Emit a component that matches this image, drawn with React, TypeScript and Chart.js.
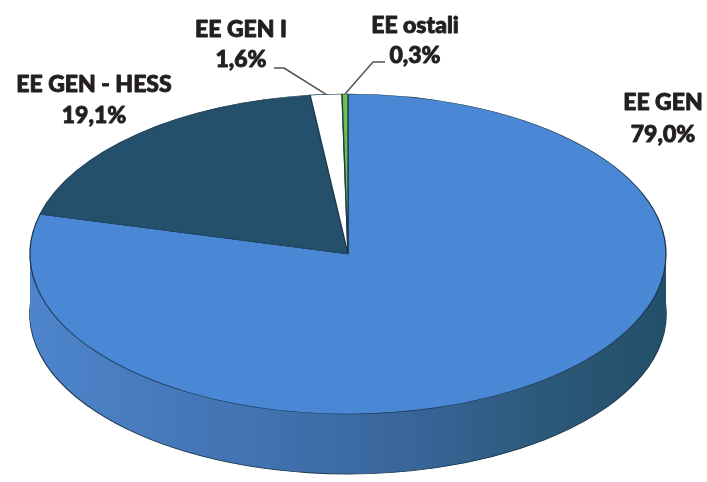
import React, { useEffect, useRef } from "react";
import { Chart, registerables } from "chart.js";

Chart.register(...registerables);

// ---- data ----
const categories: string[] = ["EE GEN", "EE GEN - HESS", "EE GEN I", "EE ostali"];
const shares: number[] = [79.0, 19.1, 1.6, 0.3];
const sliceColors: string[] = ["#4a88d6", "#25506c", "#ffffff", "#6cbf4a"];

// ---- layout (screen pixels) ----
const CX = 348;
const CY = 254;
const RX = 318;
const RY = 160;
const DEPTH = 60;

type LabelPos = { x: number; y1: number; y2: number; leader?: { fromX: number; fromY: number; elbowX: number } };
const LABEL_POS: LabelPos[] = [
  { x: 663, y1: 110, y2: 142 },
  { x: 94, y1: 92, y2: 123 },
  { x: 241, y1: 37, y2: 67, leader: { fromX: 274, fromY: 68, elbowX: 284 } },
  { x: 415, y1: 33, y2: 63, leader: { fromX: 385, fromY: 62, elbowX: 373 } },
];

const fmt = (v: number) => v.toFixed(1).replace(".", ",") + "%";

const pie3d = {
  id: "pie3d",
  beforeDatasetsDraw(chart: any) {
    const ctx: CanvasRenderingContext2D = chart.ctx;
    const arcs = chart.getDatasetMeta(0).data as any[];
    if (!arcs.length) return false;
    const a0 = arcs[0];
    const r = a0.outerRadius;
    const ox = a0.x;
    const oy = a0.y;
    const sx = RX / r;
    const sy = RY / r;
    const place = (d: number) => {
      ctx.translate(CX, CY + d);
      ctx.scale(sx, sy);
      ctx.translate(-ox, -oy);
    };
    const grad = ctx.createLinearGradient(ox - r, 0, ox + r, 0);
    grad.addColorStop(0, "#4d84cb");
    grad.addColorStop(0.35, "#4273b2");
    grad.addColorStop(0.6, "#38659a");
    grad.addColorStop(0.8, "#2c597a");
    grad.addColorStop(1, "#244f69");

    for (let d = DEPTH; d >= 1; d--) {
      ctx.save();
      place(d);
      arcs.forEach((el: any) => {
        const orig = el.options;
        el.options = {
          ...orig,
          backgroundColor: grad,
          borderWidth: d === DEPTH ? 1.2 : 0,
          borderColor: "#1c3a4e",
        };
        el.draw(ctx);
        el.options = orig;
      });
      ctx.restore();
    }
    ctx.save();
    place(0);
    arcs.forEach((el: any) => el.draw(ctx));
    ctx.restore();
    return false;
  },
  afterDraw(chart: any) {
    const ctx: CanvasRenderingContext2D = chart.ctx;
    const arcs = chart.getDatasetMeta(0).data as any[];
    ctx.save();
    ctx.font = "900 23px Lato";
    ctx.fillStyle = "#231f20";
    ctx.strokeStyle = "#231f20";
    ctx.lineWidth = 0.9;
    ctx.lineJoin = "round";
    ctx.textAlign = "center";
    ctx.textBaseline = "alphabetic";
    categories.forEach((c, i) => {
      const p = LABEL_POS[i];
      ctx.fillText(c, p.x, p.y1);
      ctx.strokeText(c, p.x, p.y1);
      ctx.fillText(fmt(shares[i]), p.x, p.y2);
      ctx.strokeText(fmt(shares[i]), p.x, p.y2);
    });
    categories.forEach((c, i) => {
      const p = LABEL_POS[i];
      if (p.leader && arcs[i]) {
        const el = arcs[i];
        const mid = (el.startAngle + el.endAngle) / 2;
        const ex = CX + RX * Math.cos(mid);
        const ey = CY + RY * Math.sin(mid);
        ctx.beginPath();
        ctx.moveTo(p.leader.fromX, p.leader.fromY);
        ctx.lineTo(p.leader.elbowX, p.leader.fromY);
        ctx.lineTo(ex, ey);
        ctx.strokeStyle = "#555555";
        ctx.lineWidth = 1.5;
        ctx.stroke();
      }
    });
    ctx.restore();
  },
};

export default function App() {
  const ref = useRef<HTMLCanvasElement | null>(null);
  useEffect(() => {
    if (!ref.current) return;
    const chart = new Chart(ref.current, {
      type: "pie",
      data: {
        labels: categories,
        datasets: [
          {
            data: shares,
            backgroundColor: sliceColors,
            borderColor: "#1d3b50",
            borderWidth: 1,
          },
        ],
      },
      options: {
        responsive: false,
        animation: false,
        events: [],
        layout: { padding: 0 },
        plugins: {
          legend: { display: false },
          tooltip: { enabled: false },
        },
      },
      plugins: [pie3d],
    });
    return () => chart.destroy();
  }, []);
  return (
    <div style={{ position: "absolute", left: 0, top: 0, width: 707, height: 482, background: "#ffffff" }}>
      <canvas ref={ref} width={707} height={482} />
    </div>
  );
}
